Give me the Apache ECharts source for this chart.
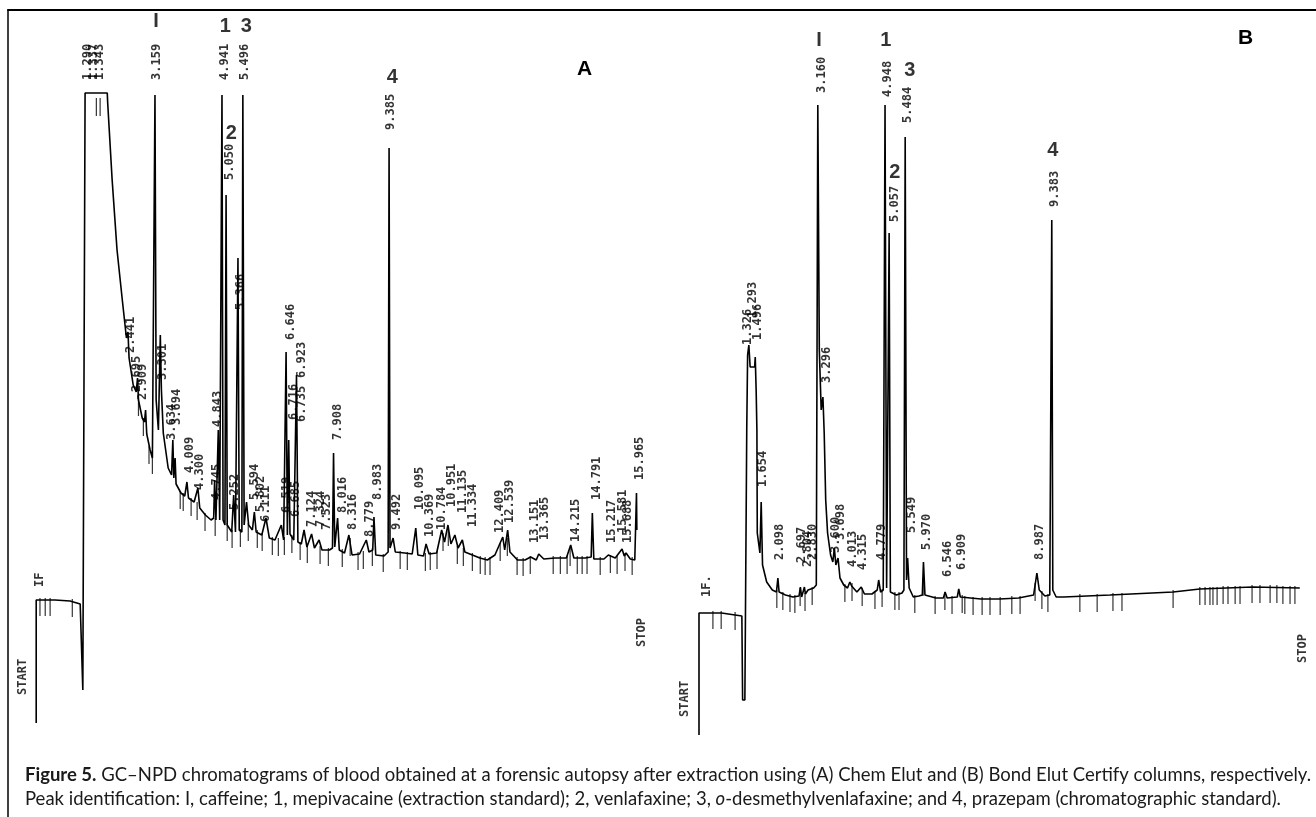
<!DOCTYPE html>
<html>
  <head>
    <meta charset="UTF-8" />
    <title>GC-NPD chromatograms</title>
    <script src="https://cdn.jsdelivr.net/npm/echarts@6/dist/echarts.min.js"></script>
    <style>
      body { margin: 0; background: #fff; }
    </style>
  </head>
  <body>
    <div id="chromChart" style="width: 1316px; height: 817px"></div>
  </body>
  <script>
    // retention time (min), detector signal (arbitrary units)
    const traceA = [
      [0, 7], [0, 130], [0.5, 130], [0.9, 129], [1.17, 126], [1.22, 124], [1.24, 40], [1.28, 40],
      [1.30, 637], [1.89, 637], [1.90, 628], [2.02, 550], [2.15, 480], [2.29, 430], [2.40, 392],
      [2.441, 398], [2.47, 372], [2.58, 345], [2.66, 338], [2.695, 352], [2.72, 330], [2.82, 312],
      [2.88, 308], [2.909, 320], [2.94, 296], [3.03, 280], [3.09, 272], [3.13, 270], [3.159, 635],
      [3.19, 330], [3.25, 300], [3.301, 395], [3.33, 340], [3.38, 297], [3.51, 262], [3.60, 255],
      [3.634, 290], [3.66, 252], [3.694, 272], [3.72, 246], [3.85, 237], [3.95, 234], [4.009, 248],
      [4.05, 232], [4.20, 228], [4.300, 242], [4.35, 222], [4.50, 215], [4.65, 210], [4.72, 212],
      [4.745, 250], [4.78, 210], [4.843, 300], [4.88, 210], [4.92, 208], [4.941, 635], [4.97, 210],
      [5.02, 205], [5.050, 535], [5.08, 205], [5.20, 198], [5.252, 235], [5.30, 198], [5.34, 200],
      [5.366, 472], [5.40, 200], [5.47, 198], [5.496, 635], [5.53, 205], [5.594, 228], [5.65, 205],
      [5.75, 200], [5.802, 218], [5.85, 198], [6.00, 195], [6.111, 212], [6.20, 192], [6.35, 190],
      [6.519, 205], [6.58, 190], [6.62, 192], [6.646, 378], [6.68, 195], [6.716, 290], [6.75, 196],
      [6.85, 190], [6.90, 192], [6.923, 355], [6.96, 188], [7.05, 186], [7.124, 200], [7.20, 183],
      [7.324, 196], [7.40, 182], [7.523, 190], [7.60, 180], [7.80, 180], [7.88, 182], [7.908, 277],
      [7.94, 183], [8.016, 212], [8.06, 180], [8.20, 177], [8.316, 195], [8.40, 175], [8.60, 176],
      [8.779, 190], [8.85, 178], [8.95, 180], [8.983, 213], [9.03, 175], [9.25, 174], [9.36, 178],
      [9.385, 582], [9.41, 182], [9.492, 192], [9.55, 178], [9.80, 177], [10.0, 176], [10.095, 202],
      [10.15, 175], [10.30, 174], [10.369, 186], [10.45, 176], [10.65, 177], [10.784, 200], [10.86, 188],
      [10.951, 205], [11.03, 186], [11.135, 195], [11.22, 182], [11.334, 190], [11.40, 178], [11.60, 175],
      [11.80, 172], [12.00, 170], [12.20, 175], [12.409, 193], [12.46, 180], [12.539, 200], [12.60, 178],
      [12.80, 170], [13.00, 170], [13.151, 173], [13.30, 170], [13.365, 176], [13.50, 171], [13.80, 172],
      [14.10, 172], [14.215, 185], [14.30, 172], [14.60, 172], [14.76, 173], [14.791, 217], [14.83, 171],
      [15.10, 171], [15.217, 175], [15.40, 172], [15.581, 181], [15.64, 174], [15.688, 177], [15.80, 171],
      [15.92, 170], [15.965, 237], [15.975, 200]
    ];

    const traceB = [
      [0, -5], [0, 117], [0.6, 117], [1.14, 114], [1.16, 30], [1.22, 30], [1.27, 300], [1.293, 375],
      [1.326, 385], [1.36, 363], [1.48, 363], [1.496, 373], [1.52, 340], [1.54, 300], [1.55, 197],
      [1.62, 177], [1.654, 228], [1.69, 165], [1.80, 148], [1.95, 140], [2.06, 138], [2.098, 152],
      [2.13, 138], [2.30, 135], [2.50, 133], [2.66, 134], [2.697, 143], [2.73, 133], [2.78, 134],
      [2.804, 143], [2.83, 136], [2.90, 140], [3.05, 142], [3.12, 145], [3.160, 625], [3.20, 380],
      [3.25, 320], [3.296, 333], [3.33, 297], [3.37, 230], [3.42, 197], [3.50, 175], [3.56, 168],
      [3.600, 182], [3.64, 165], [3.698, 172], [3.75, 152], [3.85, 145], [3.95, 142], [4.013, 148],
      [4.06, 144], [4.20, 138], [4.315, 143], [4.40, 136], [4.60, 136], [4.74, 140], [4.779, 150],
      [4.83, 138], [4.90, 140], [4.948, 625], [4.99, 142], [5.02, 140], [5.057, 497], [5.09, 138],
      [5.25, 135], [5.40, 137], [5.45, 140], [5.484, 593], [5.52, 150], [5.549, 172], [5.59, 142],
      [5.70, 133], [5.85, 134], [5.94, 135], [5.970, 168], [6.01, 135], [6.30, 132], [6.50, 132],
      [6.546, 138], [6.60, 132], [6.87, 133], [6.909, 141], [6.95, 133], [7.50, 131], [8.00, 131],
      [8.50, 132], [8.90, 135], [8.987, 157], [9.05, 140], [9.20, 134], [9.33, 135], [9.383, 510],
      [9.41, 140], [9.50, 133], [9.70, 133], [10.93, 135], [12.61, 138], [13.32, 141], [14.73, 143],
      [15.98, 142]
    ];

    // integrator event marks along the baseline
    const eventsA = [
      [0.10, 130], [0.24, 130], [0.37, 130], [0.96, 129], [1.60, 630], [1.70, 630], [2.72, 330], [2.85, 310],
      [3.00, 282], [3.09, 272], [3.83, 237], [3.91, 235], [4.12, 230], [4.28, 226], [4.49, 215], [4.76, 210],
      [5.08, 205], [5.21, 198], [5.43, 199], [5.64, 205], [5.88, 198], [6.01, 195], [6.28, 191], [6.44, 190],
      [6.60, 191], [6.80, 193], [7.02, 186], [7.21, 183], [7.55, 182], [7.77, 180], [8.14, 179], [8.35, 190],
      [8.56, 176], [8.70, 177], [8.94, 180], [9.23, 174], [9.68, 177], [9.87, 176], [10.35, 175], [10.48, 176],
      [10.66, 177], [10.82, 195], [10.96, 200], [11.20, 182], [11.36, 180], [11.60, 175], [11.81, 172],
      [11.94, 171], [12.07, 171], [12.34, 185], [12.53, 190], [12.79, 171], [12.95, 170], [13.14, 172],
      [13.75, 172], [13.94, 172], [14.12, 172], [14.20, 180], [14.39, 172], [14.52, 172], [14.65, 172],
      [15.00, 171], [15.27, 173], [15.45, 172], [15.66, 175], [15.85, 171]
    ];
    const eventsB = [
      [0.37, 117], [0.59, 117], [0.96, 116], [2.07, 138], [2.23, 136], [2.42, 134], [2.55, 133], [2.69, 140],
      [2.82, 135], [3.01, 141], [3.88, 144], [4.07, 145], [4.34, 140], [4.68, 137], [4.87, 139], [5.21, 136],
      [5.32, 136], [5.74, 133], [5.96, 150], [6.28, 132], [6.54, 136], [6.73, 132], [7.00, 133], [7.07, 132],
      [7.29, 131], [7.53, 131], [7.74, 131], [8.01, 131], [8.32, 132], [8.54, 132], [8.94, 145], [9.12, 137],
      [9.28, 134], [10.13, 134], [10.59, 134], [11.01, 135], [11.25, 135], [12.61, 138], [13.32, 141],
      [13.46, 141], [13.59, 141], [13.67, 141], [13.78, 141], [13.94, 142], [14.07, 142], [14.26, 142],
      [14.39, 142], [14.71, 143], [14.92, 143], [15.19, 143], [15.37, 143], [15.53, 142], [15.72, 142],
      [15.85, 142]
    ];

    // printed retention-time labels: [time, signal at label foot, text]
    const peakLabelsA = [
      [1.38, 650, '1.290'], [1.54, 650, '1.337'], [1.70, 650, '1.343'], [3.22, 650, '3.159'],
      [5.03, 650, '4.941'], [5.56, 650, '5.496'], [5.16, 550, '5.050'], [5.45, 420, '5.366'],
      [9.44, 600, '9.385'], [2.53, 377, '2.441'], [2.69, 338, '2.695'], [2.85, 330, '2.909'],
      [3.38, 350, '3.301'], [3.62, 290, '3.634'], [3.75, 305, '3.694'], [4.10, 257, '4.009'],
      [4.36, 240, '4.300'], [4.84, 303, '4.843'], [4.81, 230, '4.745'], [5.29, 220, '5.252'],
      [5.82, 230, '5.594'], [5.98, 218, '5.802'], [6.12, 208, '6.111'], [6.76, 390, '6.646'],
      [7.07, 352, '6.923'], [7.07, 308, '6.735'], [6.84, 310, '6.716'], [6.68, 217, '6.519'],
      [6.91, 213, '6.685'], [7.34, 203, '7.124'], [7.58, 203, '7.324'], [7.74, 200, '7.523'],
      [8.03, 290, '7.908'], [8.16, 217, '8.016'], [8.43, 200, '8.316'], [8.88, 193, '8.779'],
      [9.10, 230, '8.983'], [9.60, 200, '9.492'], [10.21, 220, '10.095'], [10.48, 193, '10.369'],
      [10.80, 200, '10.784'], [11.06, 223, '10.951'], [11.36, 217, '11.135'], [11.62, 203, '11.334'],
      [12.34, 197, '12.409'], [12.61, 207, '12.539'], [13.27, 187, '13.151'], [13.54, 190, '13.365'],
      [14.34, 188, '14.215'], [14.92, 230, '14.791'], [15.32, 187, '15.217'], [15.59, 197, '15.581'],
      [15.74, 187, '15.688'], [16.06, 250, '15.965'],
      [16.12, 83, 'STOP'], [-0.35, 35, 'START'], [0.11, 143, 'IF']
    ];
    const peakLabelsB = [
      [1.30, 385, '1.326'], [1.44, 412, '1.293'], [1.57, 390, '1.496'], [3.27, 637, '3.160'],
      [5.03, 633, '4.948'], [5.56, 607, '5.484'], [5.21, 508, '5.057'], [9.47, 523, '9.383'],
      [1.70, 243, '1.654'], [2.15, 170, '2.098'], [2.74, 167, '2.697'], [2.90, 163, '2.804'],
      [3.03, 170, '2.830'], [3.40, 347, '3.296'], [3.64, 177, '3.600'], [3.78, 190, '3.698'],
      [4.10, 163, '4.013'], [4.36, 160, '4.315'], [4.87, 170, '4.779'], [5.66, 197, '5.549'],
      [6.06, 180, '5.970'], [6.62, 153, '6.546'], [6.99, 160, '6.909'], [9.07, 170, '8.987'],
      [16.06, 67, 'STOP'], [-0.37, 13, 'START'], [0.21, 133, '1F.']
    ];

    // peak identification marks: [time, signal, id]
    const peakIdsA = [[3.19, 709, 'I'], [5.03, 704, '1'], [5.59, 704, '3'], [5.19, 597, '2'], [9.47, 653, '4']];
    const peakIdsB = [[3.19, 690, 'I'], [4.97, 690, '1'], [5.61, 660, '3'], [5.21, 558, '2'], [9.41, 580, '4']];

    const captionLine1 = '{b|Figure 5.} GC–NPD chromatograms of blood obtained at a forensic autopsy after extraction using (A) Chem Elut and (B) Bond Elut Certify columns, respectively.';
    const captionLine2 = 'Peak identification: I, caffeine; 1, mepivacaine (extraction standard); 2, venlafaxine; 3, {i|o}-desmethylvenlafaxine; and 4, prazepam (chromatographic standard).';

    const ink = '#000';
    const printFont = 'DejaVu Sans Mono';
    const capFont = 'Lato';
    const capSize = 18.5;

    let myChart = echarts.init(document.getElementById('chromChart'));

    function hiddenAxis(min, max, idx) {
      return { type: 'value', gridIndex: idx, min: min, max: max, show: false };
    }

    function traceSeries(idx, data) {
      return {
        type: 'line', xAxisIndex: idx, yAxisIndex: idx, data: data,
        symbol: 'none', clip: false,
        lineStyle: { color: ink, width: 1.6 }
      };
    }
    function eventSeries(idx, data) {
      return {
        type: 'scatter', xAxisIndex: idx, yAxisIndex: idx, data: data,
        symbol: 'rect', symbolSize: [1.2, 18], symbolOffset: [0, 7], clip: false,
        itemStyle: { color: ink, opacity: 0.8 }
      };
    }
    function labelSeries(idx, data) {
      return {
        type: 'scatter', xAxisIndex: idx, yAxisIndex: idx, data: data,
        symbolSize: 0, clip: false,
        itemStyle: { color: ink },
        label: {
          show: true, position: 'top', distance: 0, rotate: 90, align: 'left', verticalAlign: 'middle',
          formatter: p => p.data[2],
          fontFamily: printFont, fontSize: 12, fontWeight: 'bold', color: ink,
          textBorderWidth: 0
        }
      };
    }
    function idSeries(idx, data) {
      return {
        type: 'scatter', xAxisIndex: idx, yAxisIndex: idx, data: data,
        symbolSize: 0, clip: false,
        itemStyle: { color: ink },
        label: {
          show: true, position: 'top', distance: 0, align: 'center', verticalAlign: 'middle',
          formatter: p => p.data[2],
          fontFamily: 'Liberation Sans', fontSize: 20, fontWeight: 'bold', color: ink,
          textBorderWidth: 0
        }
      };
    }

    myChart.setOption({
      animation: false,
      backgroundColor: '#fff',
      title: [
        { text: 'A', left: 577, top: 59, padding: 0,
          textStyle: { fontFamily: 'Liberation Sans', fontSize: 21, fontWeight: 'bold', color: ink } },
        { text: 'B', left: 1238, top: 28, padding: 0,
          textStyle: { fontFamily: 'Liberation Sans', fontSize: 21, fontWeight: 'bold', color: ink } },
        { text: captionLine1 + '\n' + captionLine2, left: 25, top: 763, padding: 0,
          textStyle: {
            fontFamily: capFont, fontSize: capSize, fontWeight: 'normal', color: '#1a1a1a', lineHeight: 24,
            rich: {
              b: { fontFamily: capFont, fontSize: capSize, fontWeight: 'bold', color: '#1a1a1a', lineHeight: 24 },
              i: { fontFamily: capFont, fontSize: capSize, fontStyle: 'italic', color: '#1a1a1a', lineHeight: 24 }
            }
          } }
      ],
      grid: [
        { left: 8, top: 10, right: 0, bottom: 0 },
        { left: 8, top: 10, width: 648.6, height: 730 },
        { left: 670.8, top: 10, width: 644.8, height: 730 }
      ],
      xAxis: [
        { type: 'value', gridIndex: 0, min: 0, max: 1, position: 'top',
          axisLine: { show: true, onZero: false, lineStyle: { color: ink, width: 2 } },
          axisTick: { show: false }, axisLabel: { show: false }, splitLine: { show: false } },
        hiddenAxis(-0.75, 16.5, 1),
        hiddenAxis(-0.75, 16.4, 2)
      ],
      yAxis: [
        { type: 'value', gridIndex: 0, min: 0, max: 1, position: 'left',
          axisLine: { show: true, onZero: false, lineStyle: { color: ink, width: 1.5 } },
          axisTick: { show: false }, axisLabel: { show: false }, splitLine: { show: false } },
        hiddenAxis(-10, 720, 1),
        hiddenAxis(-10, 720, 2)
      ],
      series: [
        traceSeries(1, traceA), eventSeries(1, eventsA), labelSeries(1, peakLabelsA), idSeries(1, peakIdsA),
        traceSeries(2, traceB), eventSeries(2, eventsB), labelSeries(2, peakLabelsB), idSeries(2, peakIdsB)
      ]
    });
  </script>
</html>
